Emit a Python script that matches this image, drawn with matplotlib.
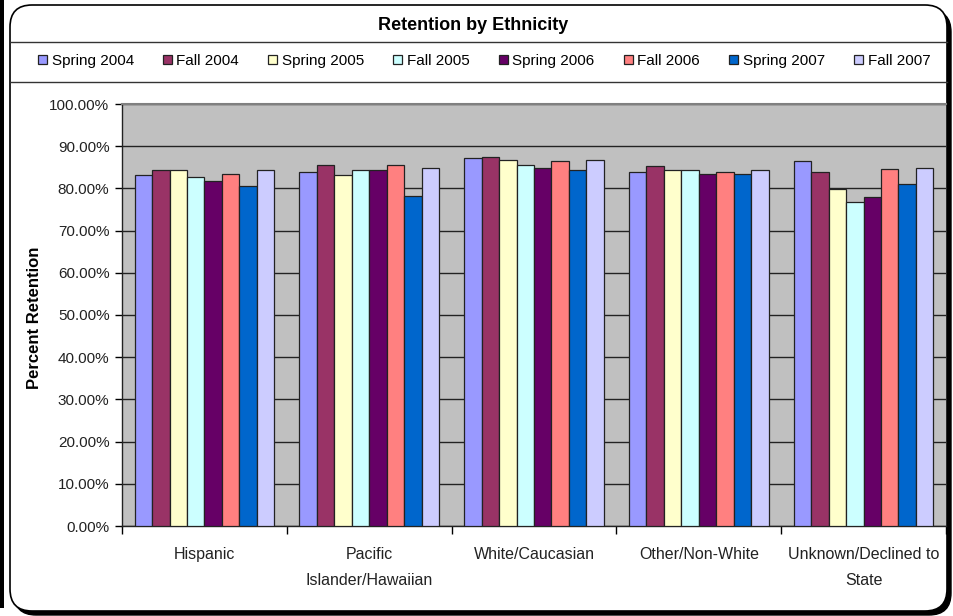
import numpy as np
import matplotlib
matplotlib.use('Agg')
import matplotlib.pyplot as plt
from matplotlib.patches import FancyBboxPatch, Rectangle
from matplotlib.transforms import IdentityTransform
from matplotlib.ticker import MultipleLocator, PercentFormatter

plt.rcParams['font.family'] = ['Liberation Sans', 'DejaVu Sans']

# data
categories = ['Hispanic', 'Pacific\nIslander/Hawaiian', 'White/Caucasian',
              'Other/Non-White', 'Unknown/Declined to\nState']
terms = ['Spring 2004', 'Fall 2004', 'Spring 2005', 'Fall 2005',
         'Spring 2006', 'Fall 2006', 'Spring 2007', 'Fall 2007']
colors = ['#9999FF', '#993366', '#FFFFCC', '#CCFFFF',
          '#660066', '#FF8080', '#0066CC', '#CCCCFF']

spring_2004 = [83.1, 83.9, 87.1, 83.9, 86.5]
fall_2004 = [84.3, 85.6, 87.4, 85.2, 83.9]
spring_2005 = [84.3, 83.1, 86.8, 84.3, 79.9]
fall_2005 = [82.7, 84.4, 85.6, 84.3, 76.7]
spring_2006 = [81.8, 84.4, 84.9, 83.5, 77.9]
fall_2006 = [83.5, 85.6, 86.4, 84.0, 84.6]
spring_2007 = [80.6, 78.1, 84.3, 83.5, 81.0]
fall_2007 = [84.3, 84.9, 86.8, 84.3, 84.9]
series = [spring_2004, fall_2004, spring_2005, fall_2005,
          spring_2006, fall_2006, spring_2007, fall_2007]

W, H = 954, 616
fig = plt.figure(figsize=(W / 100, H / 100), dpi=100)

# frame: black shadow + white rounded box (pixel coords, y from bottom)
def box(x0, y0, x1, y1, **kw):
    return FancyBboxPatch((x0, H - y1), x1 - x0, y1 - y0,
                          boxstyle='round,pad=0,rounding_size=22',
                          transform=IdentityTransform(), **kw)

fig.patches.append(box(14, 10, 951, 615, facecolor='black', edgecolor='black', zorder=0))
fig.patches.append(box(10, 5, 947, 611, facecolor='white', edgecolor='black', lw=1.2, zorder=1))
fig.patches.append(Rectangle((0, H - 608), 4, 608, transform=IdentityTransform(),
                             facecolor='black', edgecolor='none', zorder=1))
for yy in (42, 82):
    fig.lines.append(plt.Line2D([10, 947], [H - yy, H - yy], transform=IdentityTransform(),
                                color='#333333', lw=1.0, zorder=2))

fig.text(473 / W, 1 - 25 / H, 'Retention by Ethnicity', ha='center', va='center',
         fontsize=13, fontweight='bold')

ax = fig.add_axes([122 / W, 1 - 526 / H, (946 - 122) / W, (526 - 104) / H])
ax.set_zorder(5)
ax.set_facecolor('#C0C0C0')

x = np.arange(len(categories))
bw = 0.1058
handles = []
for i, (vals, c, lab) in enumerate(zip(series, colors, terms)):
    b = ax.bar(x + (i - 3.5) * bw, vals, bw, color=c, edgecolor='#222222',
               linewidth=0.9, label=lab, zorder=3)
    handles.append(b)

ax.set_xlim(-0.5, len(categories) - 0.5)
ax.set_ylim(0, 100)
ax.yaxis.set_major_locator(MultipleLocator(10))
ax.yaxis.set_major_formatter(PercentFormatter(decimals=2))
ax.grid(axis='y', color='#222222', lw=1.0, zorder=1)
ax.set_axisbelow(True)
ax.set_xticks(x)
ax.set_xticklabels(categories, fontsize=11.5, color='#222222', linespacing=1.9)
ax.set_xticks(np.arange(len(categories) + 1) - 0.5, minor=True)
ax.tick_params(axis='x', which='major', length=0, pad=15)
ax.tick_params(axis='x', which='minor', length=6, width=1, direction='out')
ax.tick_params(axis='y', length=5, width=1, direction='out', labelsize=11,
               labelcolor='#222222', pad=4)
for s in ('left', 'bottom'):
    ax.spines[s].set_color('#222222')
    ax.spines[s].set_linewidth(1.0)
ax.spines['right'].set_visible(False)
ax.spines['top'].set_color('#808080')
ax.spines['top'].set_linewidth(1.5)

fig.text(35 / W, 1 - 318 / H, 'Percent Retention', rotation=90, ha='center', va='center',
         fontsize=12, fontweight='bold')

fig.legend(handles, terms, loc='center', ncol=8, mode='expand',
           bbox_to_anchor=(24 / W, 1 - 76 / H, 920 / W, 30 / H), frameon=False,
           fontsize=11, handlelength=0.6, handleheight=0.6, handletextpad=0.3,
           columnspacing=1.0)

fig.savefig('out.png', dpi=100)
